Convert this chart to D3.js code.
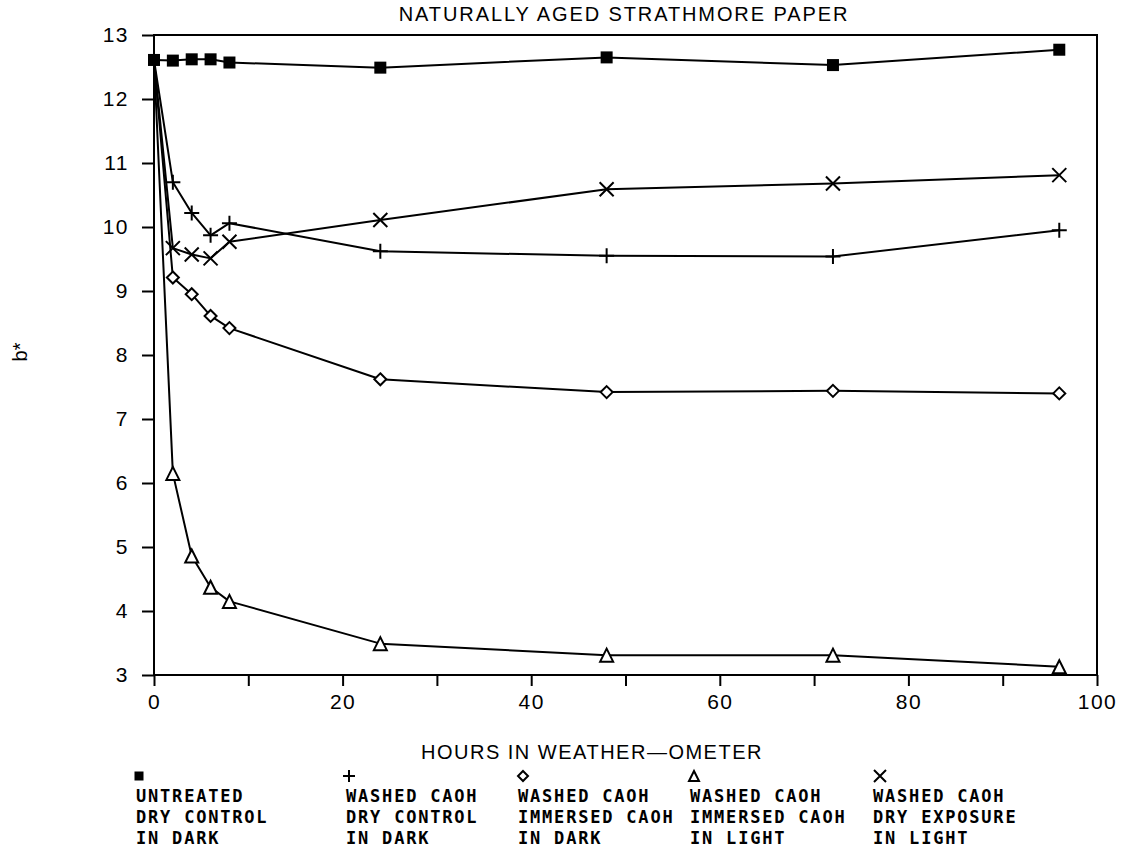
<!DOCTYPE html>
<html>
<head>
<meta charset="utf-8">
<script src="https://cdn.jsdelivr.net/npm/d3@7"></script>
<style>
  body { margin: 0; background: #fff; }
  svg { display: block; }
  .axis path, .axis line { stroke: #000; stroke-width: 2; }
  .axis text { font-family: "Liberation Sans", Arial, sans-serif; font-size: 21px; fill: #000; }
  .lbl { font-family: "Liberation Sans", Arial, sans-serif; font-size: 20px; fill: #000; }
  .leg { font-family: "DejaVu Sans Mono", monospace; font-size: 17px; font-weight: bold; fill: #000; letter-spacing: 1.8px; }
</style>
</head>
<body>
<div id="chart"></div>
<script>
// hours in weather-ometer
const hours = [0, 2, 4, 6, 8, 24, 48, 72, 96];

// b* values
const untreatedDark = [12.61, 12.60, 12.62, 12.62, 12.57, 12.49, 12.65, 12.53, 12.77];
const washedDryDark = [12.61, 10.70, 10.22, 9.87, 10.06, 9.62, 9.55, 9.54, 9.95];
const immersedDark = [12.61, 9.21, 8.95, 8.61, 8.42, 7.62, 7.42, 7.44, 7.40];
const immersedLight = [12.61, 6.15, 4.86, 4.37, 4.15, 3.49, 3.31, 3.31, 3.13];
const dryExposureLight = [12.61, 9.67, 9.57, 9.51, 9.77, 10.11, 10.59, 10.68, 10.81];

const xTicks = [0, 10, 20, 30, 40, 50, 60, 70, 80, 90, 100];
const yTicks = [3, 4, 5, 6, 7, 8, 9, 10, 11, 12, 13];

const legendText = [
  ["UNTREATED", "DRY CONTROL", "IN DARK"],
  ["WASHED CAOH", "DRY CONTROL", "IN DARK"],
  ["WASHED CAOH", "IMMERSED CAOH", "IN DARK"],
  ["WASHED CAOH", "IMMERSED CAOH", "IN LIGHT"],
  ["WASHED CAOH", "DRY EXPOSURE", "IN LIGHT"]
];

const series = [
  { values: untreatedDark, mark: "square" },
  { values: washedDryDark, mark: "plus" },
  { values: immersedDark, mark: "diamond" },
  { values: immersedLight, mark: "triangle" },
  { values: dryExposureLight, mark: "cross" }
];

const width = 1122, height = 852;
const margin = { top: 35, right: 24, bottom: 177, left: 154 };

const svg = d3.select("#chart").append("svg")
  .attr("width", width)
  .attr("height", height);

const xScale = d3.scaleLinear()
  .domain([0, 100])
  .range([margin.left, width - margin.right - 1]);

const yScale = d3.scaleLinear()
  .domain([3, 13])
  .range([height - margin.bottom, margin.top]);

// frame
svg.append("rect")
  .attr("x", xScale(0))
  .attr("y", yScale(13))
  .attr("width", xScale(100) - xScale(0))
  .attr("height", yScale(3) - yScale(13))
  .attr("fill", "none")
  .attr("stroke", "#000")
  .attr("stroke-width", 2);

// axes
svg.append("g")
  .attr("class", "axis")
  .attr("transform", `translate(0,${yScale(3)})`)
  .call(d3.axisBottom(xScale).tickValues(xTicks).tickSize(11).tickPadding(8)
    .tickFormat(d => d % 20 === 0 ? d : ""));

svg.append("g")
  .attr("class", "axis")
  .attr("transform", `translate(${xScale(0)},0)`)
  .call(d3.axisLeft(yScale).tickValues(yTicks).tickSize(12).tickPadding(13));

svg.selectAll(".axis .domain").remove();
svg.selectAll(".axis text").attr("letter-spacing", 1.5);

// titles
svg.append("text")
  .attr("class", "lbl")
  .attr("x", 624)
  .attr("y", 21)
  .attr("text-anchor", "middle")
  .attr("letter-spacing", 1.9)
  .text("NATURALLY AGED STRATHMORE PAPER");

svg.append("text")
  .attr("class", "lbl")
  .attr("x", 592)
  .attr("y", 759)
  .attr("text-anchor", "middle")
  .attr("letter-spacing", 1.5)
  .text("HOURS IN WEATHER\u2014OMETER");

svg.append("text")
  .attr("class", "lbl")
  .attr("transform", "translate(27,352) rotate(-90)")
  .attr("text-anchor", "middle")
  .text("b*");

// marker shapes
function drawMark(g, type, s) {
  if (type === "square") {
    g.append("rect").attr("x", -s / 2).attr("y", -s / 2).attr("width", s).attr("height", s)
      .attr("fill", "#000");
  } else if (type === "plus") {
    g.append("path").attr("d", `M${-s / 2},0H${s / 2}M0,${-s / 2}V${s / 2}`)
      .attr("stroke", "#000").attr("stroke-width", 2);
  } else if (type === "diamond") {
    g.append("path").attr("d", `M0,${-s / 2}L${s / 2},0L0,${s / 2}L${-s / 2},0Z`)
      .attr("fill", "#fff").attr("stroke", "#000").attr("stroke-width", 2);
  } else if (type === "triangle") {
    g.append("path").attr("d", `M0,${-s / 2}L${s / 2},${s / 2}L${-s / 2},${s / 2}Z`)
      .attr("fill", "#fff").attr("stroke", "#000").attr("stroke-width", 2);
  } else if (type === "cross") {
    const h = s / 2;
    g.append("path").attr("d", `M${-h},${-h}L${h},${h}M${-h},${h}L${h},${-h}`)
      .attr("stroke", "#000").attr("stroke-width", 2);
  }
}

const markSize = { square: 12, plus: 15, diamond: 12, triangle: 13, cross: 14 };

const line = d3.line()
  .x((d, i) => xScale(hours[i]))
  .y(d => yScale(d));

series.forEach(s => {
  svg.append("path")
    .datum(s.values)
    .attr("fill", "none")
    .attr("stroke", "#000")
    .attr("stroke-width", 2)
    .attr("stroke-linejoin", "round")
    .attr("d", line);
});

// markers drawn on top; square last so it covers the common start point
[1, 2, 3, 4, 0].forEach(k => {
  const s = series[k];
  s.values.forEach((v, i) => {
    if (i === 0 && k !== 0) return;
    const g = svg.append("g").attr("transform", `translate(${xScale(hours[i])},${yScale(v)})`);
    drawMark(g, s.mark, markSize[s.mark]);
  });
});

// legend
const legX = [136, 346, 518, 690, 873];
const legMarkX = [139, 349, 523, 694, 880];
const legMarkSize = { square: 9, plus: 12, diamond: 10, triangle: 10, cross: 12 };

series.forEach((s, k) => {
  const g = svg.append("g").attr("transform", `translate(${legMarkX[k]},776)`);
  drawMark(g, s.mark, legMarkSize[s.mark]);
  legendText[k].forEach((t, r) => {
    svg.append("text")
      .attr("class", "leg")
      .attr("x", legX[k])
      .attr("y", 802 + r * 21)
      .text(t);
  });
});
</script>
</body>
</html>
